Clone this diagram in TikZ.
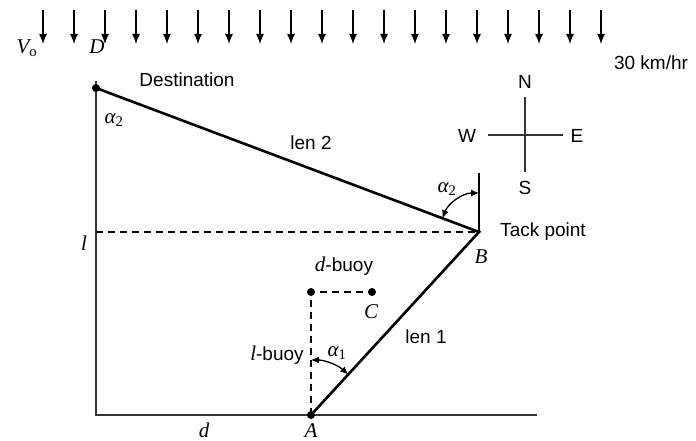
\documentclass[tikz,border=0pt]{standalone}
\usepackage{fontspec}
\setmainfont{Liberation Sans}
\newfontfamily\tms{Liberation Serif}
\newcommand\mi[1]{{\tms\fontsize{21}{24}\selectfont\itshape #1}}
\newcommand\subs[1]{{\tms\fontsize{21}{24}\selectfont\textsubscript{#1}}}
\usetikzlibrary{arrows.meta,calc}
\begin{document}
\begin{tikzpicture}[x=1pt,y=-1pt,
  lbl/.style={font=\fontsize{19}{22}\selectfont, inner sep=0pt},
  wind/.style={line width=1.3pt,-{Latex[length=10pt,width=8pt]}},
  frame/.style={line width=1.6pt,draw=black!80},
  track/.style={line width=2.6pt},
  dashline/.style={line width=1.2pt,dash pattern=on 7pt off 5pt},
  angarrow/.style={line width=1.3pt,{Latex[length=8pt,width=7pt]}-{Latex[length=8pt,width=7pt]}},
  dot/.style={circle,fill=black,inner sep=0pt,minimum size=8pt}
]
\useasboundingbox (0,0) rectangle (696,441);
% wind arrows
\foreach \i in {0,...,18}{
  \coordinate (w\i) at ({43+31*\i},10);
  \coordinate (wt\i) at ({43+31*\i},44);
  \draw[wind] (w\i) -- (wt\i);
}
% points
\coordinate (D) at (96,88);
\coordinate (Dtop) at (96,81);
\coordinate (O) at (96,415);
\coordinate (E) at (537,415);
\coordinate (A) at (311,415);
\coordinate (B) at (479,232);
\coordinate (Btop) at (479,173);
\coordinate (L) at (96,232);
\coordinate (P) at (311,292);
\coordinate (C) at (372,292);
% frame
\draw[frame] (Dtop) -- (O) -- (E);
% dashed
\draw[dashline] (L) -- (B);
\draw[dashline] (A) -- (P) -- (C);
% tracks
\draw[track] (D) -- (B) -- (A);
\draw[line width=1.5pt] (B) -- (Btop);
% dots
\node[dot] (Dd) at (D) {};
\node[dot] (Ad) at (A) {};
\node[dot] (Pd) at (P) {};
\node[dot] (Cd) at (C) {};
% angle arrows
\draw[angarrow] ($(B)+(200.6:39)$) arc[start angle=200.6,end angle=270,radius=39];
\draw[angarrow] ($(A)+(270:55)$) arc[start angle=270,end angle=312.6,radius=55];
% compass
\coordinate (Cc) at (525,135);
\coordinate (Cn) at (525,97);
\coordinate (Cs) at (525,172);
\coordinate (Cw) at (488,135);
\coordinate (Ce) at (563,135);
\draw[line width=1.3pt,draw=black!80] (Cn) -- (Cs) (Cw) -- (Ce);
\node[lbl] (N) at (525,82) {N};
\node[lbl] (S) at (525,188) {S};
\node[lbl] (W) at (467,136) {W};
\node[lbl] (Ee) at (577,136) {E};
% labels
\node[lbl] (vo) at (27,48) {\mi{V}\subs{o}};
\node[lbl] (dl) at (97,47) {\mi{D}};
\node[lbl] (dest) at (187,80) {Destination};
\node[lbl] (speed) at (651,63) {30 km/hr};
\node[lbl] (len2) at (311,143) {len 2};
\node[lbl] (a2d) at (114,120) {\mi{α}\subs{2}};
\node[lbl] (a2b) at (447,189) {\mi{α}\subs{2}};
\node[lbl] (tack) at (543,232) {Tack point};
\node[lbl] (bl) at (481,257) {\mi{B}};
\node[lbl] (ll) at (84,243) {\mi{l}};
\node[lbl] (dbuoy) at (344,266) {\mi{d}-buoy};
\node[lbl] (cl) at (371,312) {\mi{C}};
\node[lbl] (len1) at (426,337) {len 1};
\node[lbl] (lbuoy) at (277,355) {\mi{l}-buoy};
\node[lbl] (a1) at (337,353) {\mi{α}\subs{1}};
\node[lbl] (dd) at (204,430) {\mi{d}};
\node[lbl] (al) at (311,431) {\mi{A}};
\end{tikzpicture}
\end{document}
